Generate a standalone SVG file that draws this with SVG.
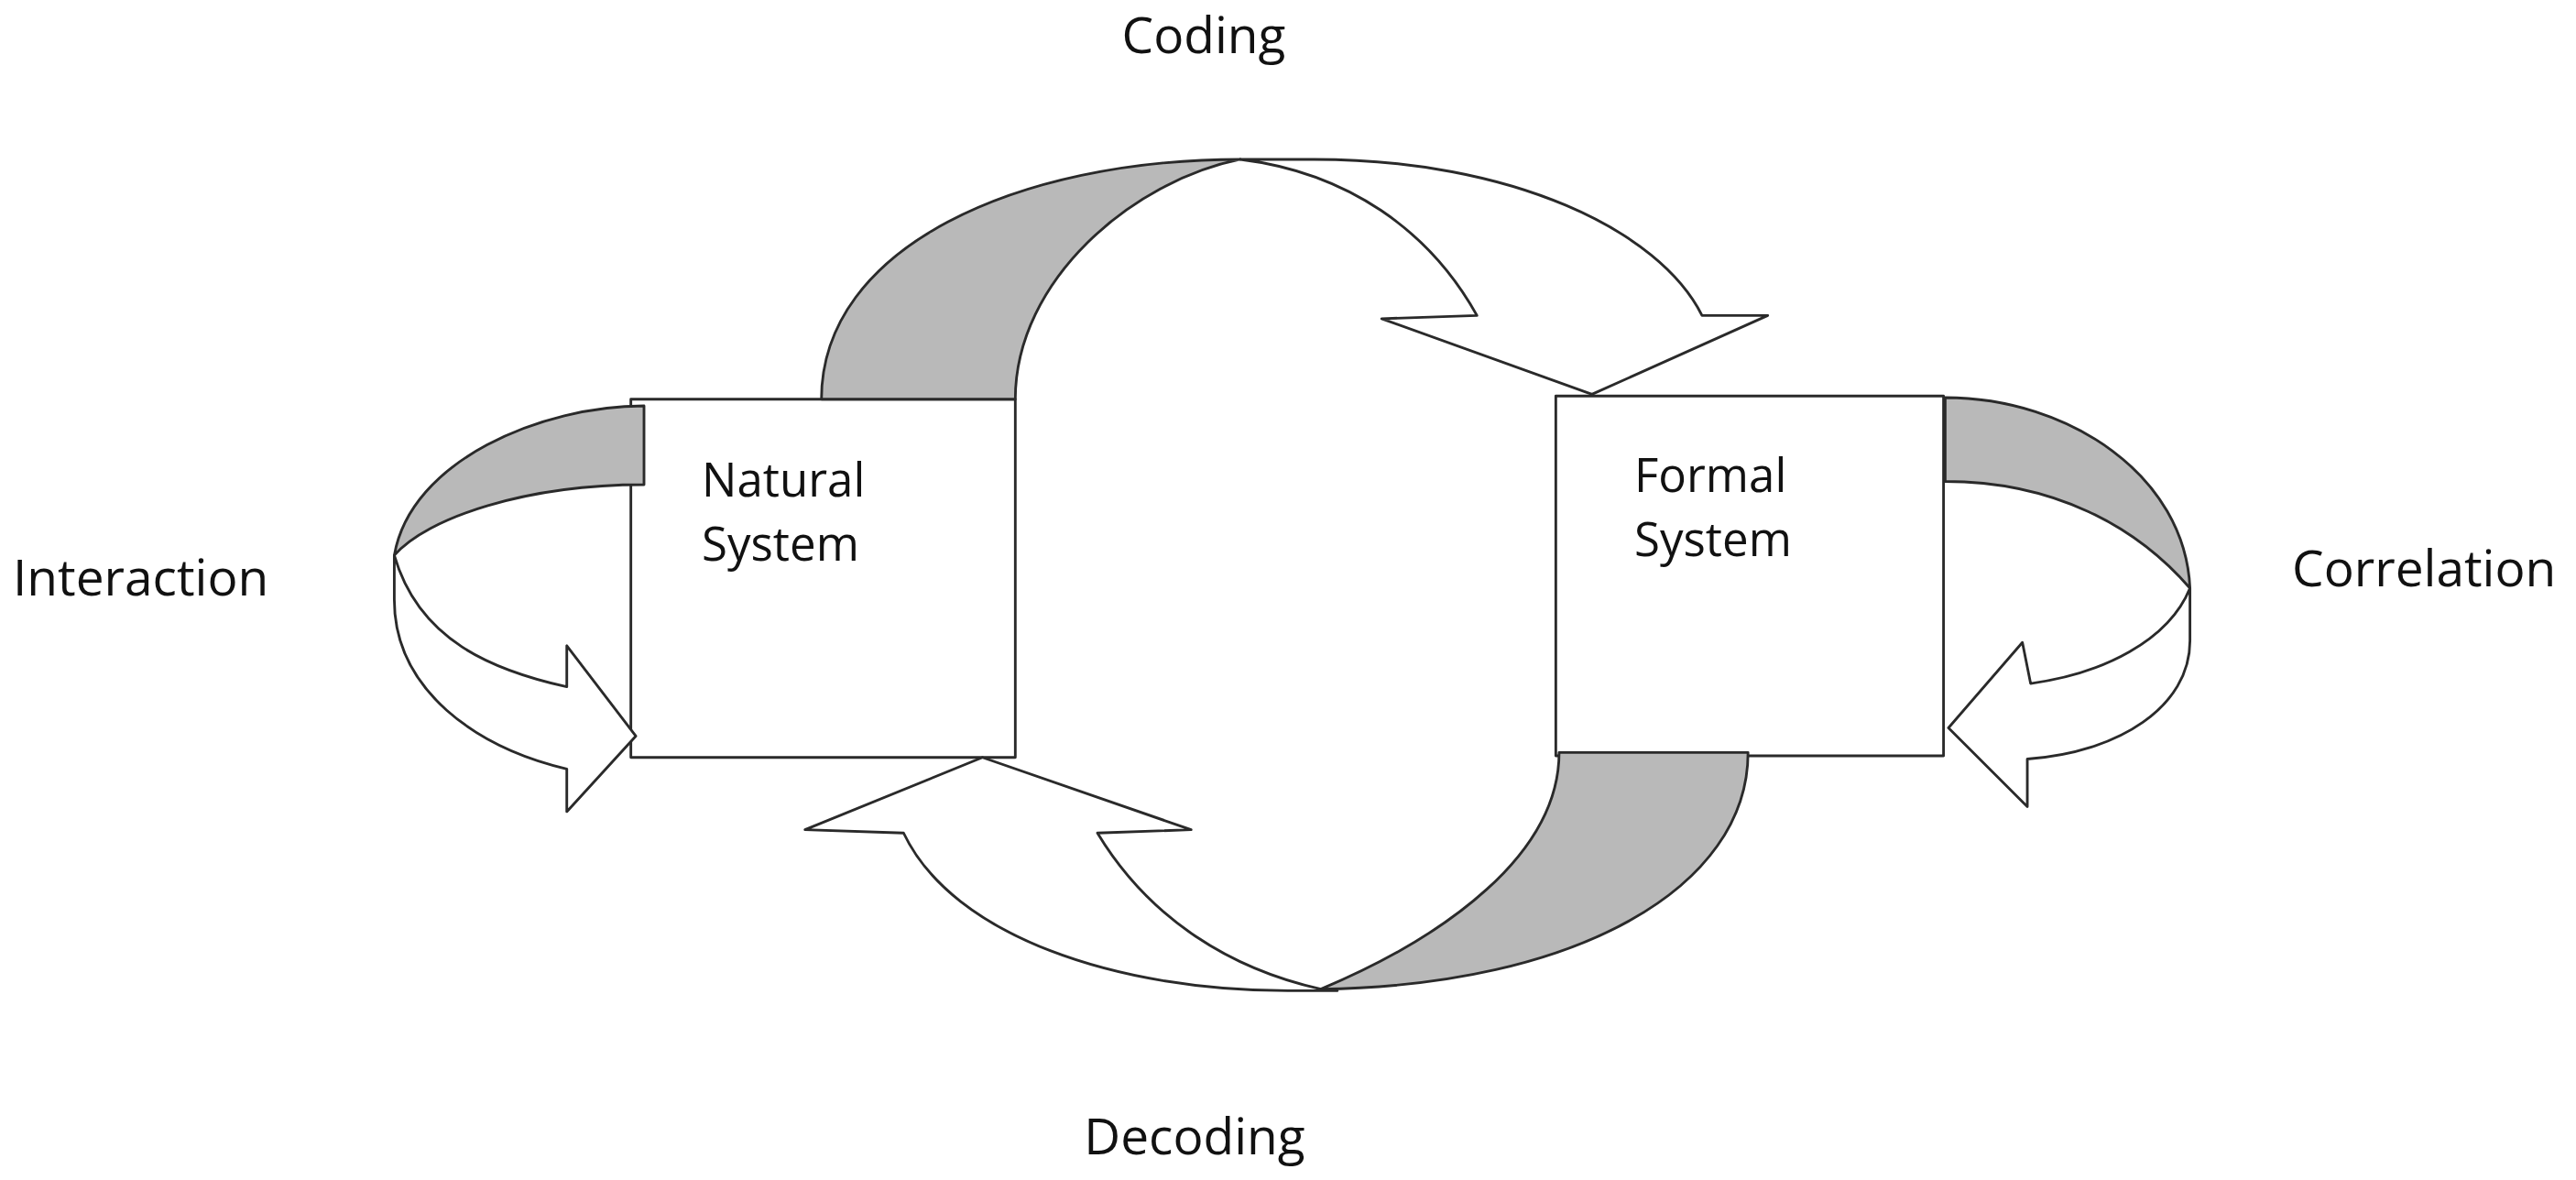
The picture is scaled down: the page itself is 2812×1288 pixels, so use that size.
<svg xmlns="http://www.w3.org/2000/svg" width="2812" height="1288" viewBox="0 0 2812 1288">
<style>
.s{stroke:#2a2a2a;stroke-width:1.6;stroke-linejoin:round}
.g{fill:#b9b9b9}
.w{fill:#fff}
text{font-family:"Open Sans","Liberation Sans",sans-serif;font-size:55px;fill:#111}
.b{font-size:51px}
</style>
<rect width="2812" height="1288" fill="#fff"/>
<g transform="scale(1.7934)">
<g id="natural-bg"><rect class="s w" x="384" y="243" width="234" height="218"/></g>
<g id="formal-bg"><rect class="s w" x="947" y="241" width="236" height="219"/></g>
<g id="connectors">
<path class="s g" d="M500,243 C500,150 620,97 755,97 C690,110 618,170 618,243 Z"/>
<path class="s w" d="M755,97 L800,97 C920,97 1010,140 1036,192 L1076,192 L969,240 L841,194 L899,192 C870,140 820,105 755,97 Z"/>
<path class="s g" d="M392,247 C330,247 250,280 240,338 C260,315 320,295 392,295 Z"/>
<path class="s w" d="M240,338 L240,365 C240,420 290,455 345,468 L345,494 L387,448 L345,393 L345,418 C300,408 255,390 240,338 Z"/>
<path class="s g" d="M1184,242 C1260,242 1330,290 1333,358 C1300,320 1250,293 1184,293 Z"/>
<path class="s w" d="M1333,358 L1333,390 C1333,430 1290,458 1234,462 L1234,491 L1186,443 L1231,391 L1236,416 C1280,410 1320,390 1333,358 Z"/>
<path class="s g" d="M1064,458 C1064,540 960,600 804,602 C880,570 949,520 949,458 Z"/>
<path class="s w" d="M814,603 L784,603 C680,603 580,570 550,507 L490,505 L598,461 L725,505 L668,507 C700,560 750,590 804,602 Z"/>
</g>
</g>
<g id="natural"><text class="b" x="766" y="542">Natural</text><text class="b" x="766" y="612">System</text></g>
<g id="formal"><text class="b" x="1784" y="537">Formal</text><text class="b" x="1784" y="607">System</text></g>
<g id="labels">
<text x="1314" y="58" text-anchor="middle">Coding</text>
<text x="14" y="650">Interaction</text>
<text x="2502" y="640">Correlation</text>
<text x="1304" y="1260" text-anchor="middle">Decoding</text>
</g>
</svg>
